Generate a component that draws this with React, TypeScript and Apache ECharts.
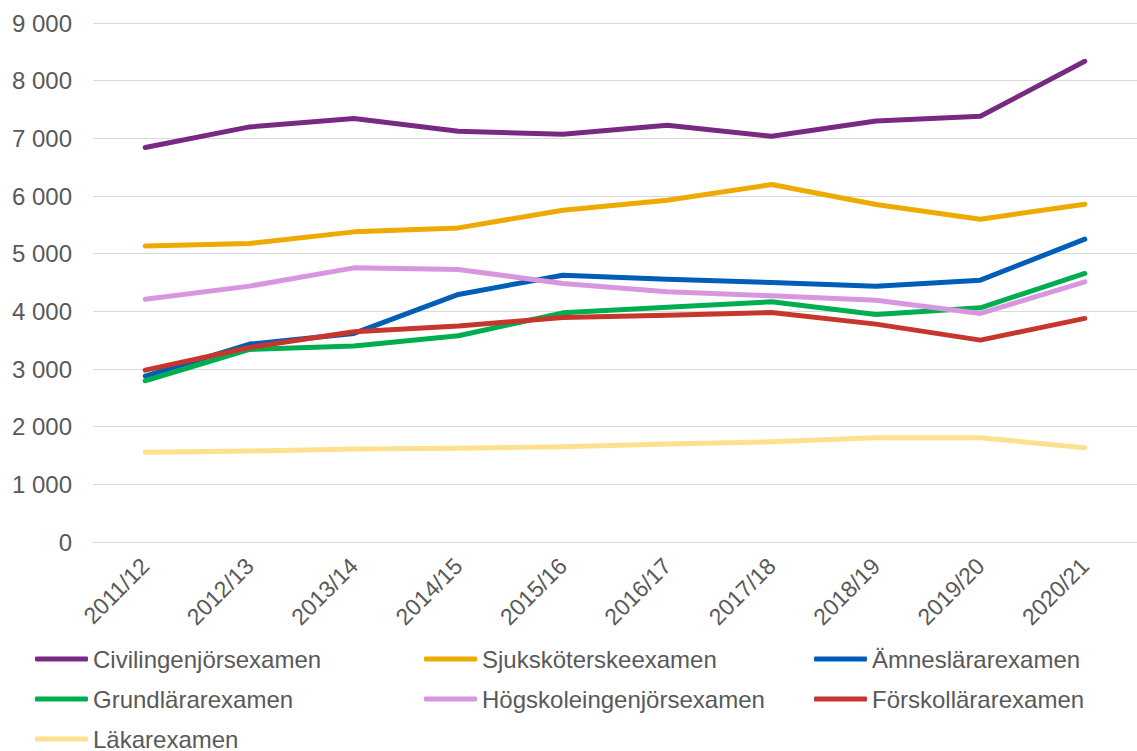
import React, { useEffect, useRef } from "react";
import * as echarts from "echarts";

const categories = ["2011/12", "2012/13", "2013/14", "2014/15", "2015/16", "2016/17", "2017/18", "2018/19", "2019/20", "2020/21"];

const civilingenjor = [6840, 7198, 7343, 7123, 7071, 7227, 7036, 7302, 7383, 8336];
const sjukskoterske = [5135, 5177, 5378, 5447, 5754, 5927, 6199, 5853, 5598, 5858];
const amneslarare = [2877, 3432, 3617, 4293, 4627, 4558, 4500, 4437, 4541, 5251];
const grundlarare = [2796, 3339, 3397, 3576, 3974, 4070, 4165, 3946, 4061, 4657];
const hogskoleingenjor = [4211, 4437, 4754, 4726, 4483, 4338, 4269, 4194, 3963, 4512];
const forskollarare = [2981, 3374, 3645, 3744, 3894, 3934, 3981, 3778, 3501, 3877];
const lakare = [1555, 1577, 1612, 1624, 1652, 1698, 1738, 1808, 1808, 1634];

const seriesDefs = [
  { name: "Civilingenjörsexamen", data: civilingenjor, color: "#782A83" },
  { name: "Sjuksköterskeexamen", data: sjukskoterske, color: "#EDAB00" },
  { name: "Ämneslärarexamen", data: amneslarare, color: "#005EB8" },
  { name: "Grundlärarexamen", data: grundlarare, color: "#00AE50" },
  { name: "Högskoleingenjörsexamen", data: hogskoleingenjor, color: "#D896E0" },
  { name: "Förskollärarexamen", data: forskollarare, color: "#C7362C" },
  { name: "Läkarexamen", data: lakare, color: "#FFE08F" },
];

const legendCols = [
  ["Civilingenjörsexamen", "Grundlärarexamen", "Läkarexamen"],
  ["Sjuksköterskeexamen", "Högskoleingenjörsexamen"],
  ["Ämneslärarexamen", "Förskollärarexamen"],
];
const legendLefts = [35, 424, 814];

const FONT = "'Liberation Sans', Arial, sans-serif";
const TEXT = "#595959";

export default function App() {
  const ref = useRef<HTMLDivElement>(null);
  useEffect(() => {
    if (!ref.current) return;
    const chart = echarts.init(ref.current, undefined, { renderer: "svg" });
    chart.setOption({
      animation: false,
      backgroundColor: "#ffffff",
      textStyle: { fontFamily: FONT },
      grid: { left: 93, right: -7, top: 23, bottom: 209, containLabel: false },
      xAxis: {
        type: "category",
        data: categories,
        boundaryGap: true,
        axisLine: { show: true, lineStyle: { color: "#D9D9D9", width: 1 } },
        axisTick: { show: false },
        axisLabel: { rotate: 45, fontSize: 23, color: TEXT, margin: 20, fontFamily: FONT, interval: 0 },
      },
      yAxis: {
        type: "value",
        min: 0,
        max: 9000,
        interval: 1000,
        axisLine: { show: false },
        axisTick: { show: false },
        splitLine: { lineStyle: { color: "#D9D9D9", width: 1 } },
        axisLabel: {
          fontSize: 24,
          color: TEXT,
          margin: 21,
          fontFamily: FONT,
          formatter: (v: number) => String(v).replace(/\B(?=(\d{3})+(?!\d))/g, " "),
        },
      },
      legend: legendCols.map((names, i) => ({
        data: names,
        orient: "vertical",
        left: legendLefts[i],
        top: 647,
        icon: "roundRect",
        itemWidth: 53,
        itemHeight: 5,
        itemGap: 16,
        textStyle: { fontSize: 24, color: TEXT, fontFamily: FONT, lineHeight: 24 },
        padding: 0,
      })),
      series: seriesDefs.map((s) => ({
        name: s.name,
        type: "line",
        data: s.data,
        symbol: "none",
        color: s.color,
        lineStyle: { width: 5, color: s.color, cap: "round", join: "round" },
        itemStyle: { color: s.color },
      })),
    });
    return () => chart.dispose();
  }, []);
  return <div ref={ref} style={{ position: "fixed", left: 0, top: 0, width: 1137, height: 751 }} />;
}
